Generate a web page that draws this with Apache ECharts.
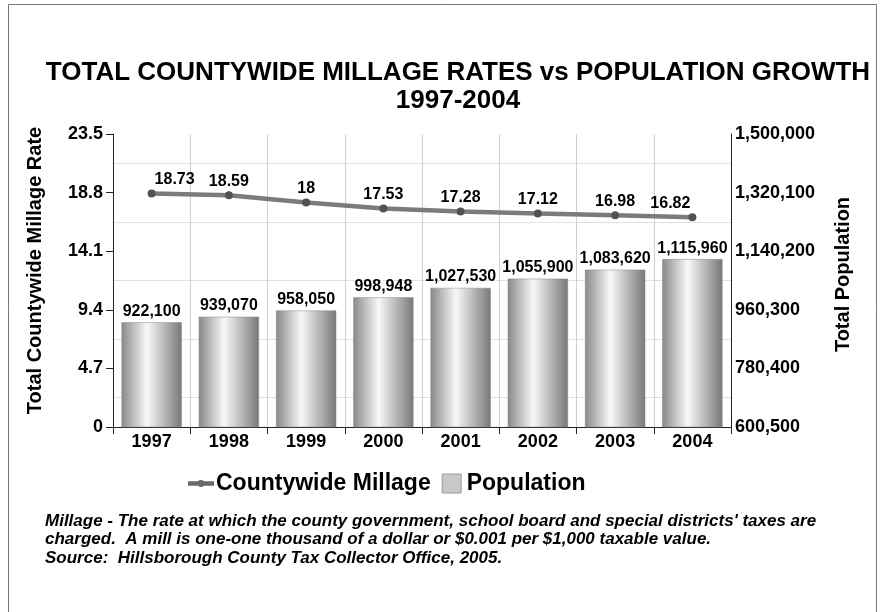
<!DOCTYPE html>
<html>
<head>
<meta charset="utf-8">
<script src="https://cdn.jsdelivr.net/npm/echarts@6/dist/echarts.min.js"></script>
<style>html,body{margin:0;padding:0;background:#fff}#c{width:884px;height:612px}</style>
</head>
<body>
<div id="c"></div>
<script>
const years = ['1997','1998','1999','2000','2001','2002','2003','2004'];
const millage = [18.73, 18.59, 18, 17.53, 17.28, 17.12, 16.98, 16.82];
const population = [922100, 939070, 958050, 998948, 1027530, 1055900, 1083620, 1115960];
const popTickLabels = ['600,500','780,400','960,300','1,140,200','1,320,100','1,500,000'];
const popMin = 600500, popMax = 1500000;
const millMin = 0, millMax = 23.5, millStep = 4.7;

const FONT = 'Liberation Sans, Arial, sans-serif';
const chart = echarts.init(document.getElementById('c'), null, {renderer: 'canvas'});
const barGrad = new echarts.graphic.LinearGradient(0, 0, 1, 0, [
  {offset: 0, color: '#888888'},
  {offset: 0.42, color: '#f8f8f8'},
  {offset: 1, color: '#787878'}
]);
const lastIdx = millage.length - 1;
const millageData = millage.map((v, i) => {
  if (i === 0) return {value: v, label: {offset: [23, 0]}};
  if (i === lastIdx) return {value: v, label: {offset: [-22, 0]}};
  return v;
});
chart.setOption({
  animation: false,
  backgroundColor: '#fff',
  textStyle: {fontFamily: FONT},
  title: {
    text: 'TOTAL COUNTYWIDE MILLAGE RATES vs POPULATION GROWTH\n1997-2004',
    left: 453, top: 54, textAlign: 'center',
    textStyle: {fontSize: 26, fontWeight: 'bold', color: '#000', lineHeight: 28, fontFamily: FONT}
  },
  legend: {
    left: 188, top: 472, padding: 0,
    itemWidth: 26, itemHeight: 19, itemGap: 11,
    textStyle: {fontSize: 23, fontWeight: 'bold', color: '#000', fontFamily: FONT, padding: [0, 0, 0, -3]},
    data: [
      {name: 'Countywide Millage', icon: 'path://M0,7.5h11.5v5h-11.5z M18.5,7.5h11.5v5h-11.5z M15,6a4,4 0 1,1 -0.001,0z', itemStyle: {color: '#666a69'}},
      {name: 'Population', icon: 'path://M0,0h10v10h-10z', itemStyle: {color: '#c8c8c8', borderColor: '#999', borderWidth: 1}}
    ]
  },
  grid: {left: 113, right: 153, top: 134, bottom: 185, containLabel: false},
  xAxis: {
    type: 'category', data: years,
    axisLine: {lineStyle: {color: '#222', width: 1}},
    axisTick: {show: true, length: 7, lineStyle: {color: '#222'}},
    axisLabel: {fontSize: 18, fontWeight: 'bold', color: '#000', margin: 6},
    splitLine: {show: true, lineStyle: {color: '#d0d0d0', width: 1}}
  },
  yAxis: [
    {
      type: 'value', min: millMin, max: millMax, interval: millStep,
      name: 'Total Countywide Millage Rate', nameLocation: 'middle', nameGap: 68,
      nameTextStyle: {fontSize: 20, fontWeight: 'bold', color: '#000', padding: [0, 0, 0, 20]},
      axisLine: {show: true, lineStyle: {color: '#222'}},
      axisTick: {show: true, length: 7, lineStyle: {color: '#222'}},
      axisLabel: {fontSize: 18, fontWeight: 'bold', color: '#000', margin: 10},
      splitLine: {show: false},
      minorTick: {show: false, splitNumber: 2},
      minorSplitLine: {show: true, lineStyle: {color: '#e0e0e0', width: 1}}
    },
    {
      type: 'value', min: popMin, max: popMax, position: 'right',
      show: false, splitLine: {show: false}
    },
    {
      type: 'value', min: 0, max: popTickLabels.length - 1, interval: 1, position: 'right',
      name: 'Total Population', nameLocation: 'middle', nameGap: 102,
      nameTextStyle: {fontSize: 20, fontWeight: 'bold', color: '#000', padding: [0, 0, 0, 12]},
      axisLine: {show: true, lineStyle: {color: '#222'}},
      axisTick: {show: false},
      axisLabel: {fontSize: 18, fontWeight: 'bold', color: '#000', margin: 4,
        formatter: v => popTickLabels[Math.round(v)] || ''},
      splitLine: {show: false}
    }
  ],
  series: [
    {
      name: 'Population', type: 'bar', yAxisIndex: 1, z: 1,
      data: population, barWidth: '78%',
      itemStyle: {color: barGrad, borderColor: '#888', borderWidth: 0.5},
      label: {show: true, position: 'top', distance: 3, fontSize: 16, fontWeight: 'bold', color: '#000',
        formatter: p => p.value.toLocaleString('en-US')}
    },
    {
      name: 'Countywide Millage', type: 'line', yAxisIndex: 0, z: 3,
      data: millageData,
      symbol: 'circle', symbolSize: 8,
      lineStyle: {color: '#7b7b7b', width: 4.5},
      itemStyle: {color: '#4c5552'},
      label: {show: true, position: 'top', distance: 2, fontSize: 16, fontWeight: 'bold', color: '#000'}
    }
  ],
  graphic: [
    {type: 'rect', shape: {x: 8.5, y: 4.5, width: 868, height: 700}, style: {fill: 'none', stroke: '#777', lineWidth: 1}, silent: true},
    {type: 'text', left: 45, top: 512, style: {
      text: "Millage - The rate at which the county government, school board and special districts' taxes are\ncharged.  A mill is one-one thousand of a dollar or $0.001 per $1,000 taxable value.\nSource:  Hillsborough County Tax Collector Office, 2005.",
      font: 'italic bold 17px ' + FONT, fill: '#000', lineHeight: 18.5
    }}
  ]
});
</script>
</body>
</html>
